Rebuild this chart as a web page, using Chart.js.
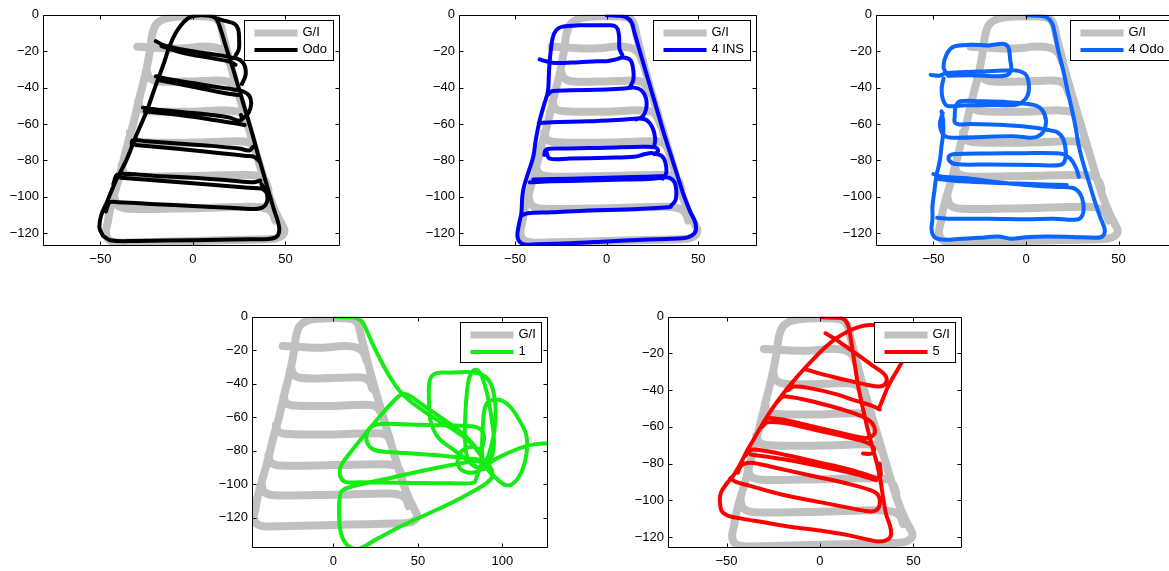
<!DOCTYPE html>
<html>
<head>
<meta charset="utf-8">
<script src="https://cdn.jsdelivr.net/npm/chart.js@4/dist/chart.umd.min.js"></script>
<style>
  html, body { margin: 0; background: #fff; overflow: hidden; width: 1169px; height: 571px; }
  canvas { position: absolute; }
</style>
</head>
<body>
<script>
// tick values
const xTicksMain = [-50, 0, 50];
const xTicksWide = [0, 50, 100];
const yTicks = [0, -20, -40, -60, -80, -100, -120];

// trajectories as [x, y] in metres, [null, null] = pen up
const giPath = [
  [-46,-114],[-45,-108],[-43.5,-102],[-41.5,-95],[-39.5,-88],[-37.5,-80],[-35,-70],[-32.5,-61],[-30.5,-52.5],[-28.5,-44],[-26.5,-36],[-24.5,-27],[-23,-18],[-22,-11],[-20,-5.5],[-16,-2.5],[-10,-1.2],[0,-0.8],[8,-1],[12.5,-2],[14.8,-5],[16.5,-12],[18.5,-20],[21,-30],[24,-41],[27.5,-53],[31,-65],[34.5,-77],[38,-89],[41.5,-100],[45,-109],[48,-115],[49.5,-118.5],[48,-121.5],[44,-123],[30,-123.5],[10,-124],[-10,-124.5],[-30,-125],[-41,-125],[-45.5,-123.5],[-47,-119.5],[-46,-114],
  [null,null],
  [-30,-17.5],[-24,-17.8],[-12,-18.5],[-2,-18.2],[3,-17.6],[9,-17.5],[14,-18.5],[17.5,-21],[19.5,-26],
  [null,null],
  [-25,-30.5],[-23.5,-34.5],[-19,-36.5],[-5,-36.7],[10,-36.2],[18,-36.5],[21.5,-39],[23,-43],
  [null,null],
  [-29.5,-47.5],[-28,-51.5],[-23,-53],[0,-53.2],[18,-52.5],[25,-53.5],[28,-57],[29.5,-61],
  [null,null],
  [-34,-64.5],[-32.5,-68.5],[-27,-70],[0,-70.2],[25,-69.5],[31,-70.5],[33.5,-74],[35,-79],
  [null,null],
  [-38.5,-82.5],[-37,-87],[-31,-88.8],[0,-88.5],[30,-88],[37,-89],[39.5,-92],[40.8,-96],
  [null,null],
  [-42.5,-100],[-41,-104.5],[-35,-106.5],[0,-106.2],[33,-105.5],[40,-106.5],[43,-109],[44.5,-113]
];

const odoPath = [
  [-48.5,-121.5],[-50.5,-117],[-49.5,-110],[-46.5,-103],[-42,-92],[-36,-80],[-30.5,-66],[-25,-53],[-20.5,-40],[-16,-27.5],[-12.5,-17],[-9,-9.5],[-5,-4],[-1,-1],[4,-0.2],[9,-0.6],[12.5,-2],[15,-8],[18,-18],[21.5,-29],[25,-41],[28.5,-53],[32,-65],[35.5,-78],[39.5,-92],[43.5,-106],[46.5,-116],[46,-121],[42,-123],[30,-123.3],[0,-123.8],[-30,-124.2],[-44,-124],[-48.5,-121.5],
  [null,null],
  [12,-1.8],[18,-3.5],[22.5,-5],[24.5,-8],[25,-14],[24.8,-19],[23,-22.5],
  [null,null],
  [-20,-14.5],[-15,-17],[-5,-19.2],[5,-20.8],[15,-22.3],[21,-23.5],[25.5,-24.8],[28,-28],[28.5,-33],[26.5,-38],
  [null,null],
  [-17,-17.2],[-5,-21],[10,-23.8],[20,-25.8],[23,-27.5],
  [null,null],
  [-20,-33.8],[-12,-35.5],[0,-37.5],[12,-39.5],[22,-41],[27,-42],[30.5,-44.5],[31.5,-49],[30,-54],[27,-57],
  [null,null],
  [-18,-36],[0,-39.5],[20,-43.5],[25,-44],
  [null,null],
  [-27,-51],[-20,-52],[-5,-53.5],[10,-55],[20,-56.5],[24,-58],[26.5,-57.5],[26,-55],
  [null,null],
  [-26,-53],[0,-56],[22,-59.5],[28,-60.5],
  [null,null],
  [-33,-72.5],[-32.5,-69],[-25,-69.5],[-10,-70.5],[10,-72],[25,-73.5],[30.5,-74.5],[32.5,-72.5],
  [null,null],
  [-31,-71.5],[-10,-73.5],[15,-76],[29,-77.5],[33,-78],[35.5,-80],
  [null,null],
  [-43,-93],[-41,-88],[-35,-87.5],[-20,-88.5],[0,-89.5],[20,-91],[33,-92],[36.5,-91],
  [null,null],
  [-39,-89.5],[0,-92.5],[30,-95],[37,-95.5],[40,-97.5],
  [null,null],
  [-47,-108],[-45,-103],[-40,-103],[-20,-104],[0,-105],[20,-106],[35,-106.5],[39.5,-104],[40,-98],[37,-93]
];

const ins4Path = [
  [0,-0.2],[6,-0.5],[10.5,-1.3],[13.5,-4],[15,-9],[17.5,-18],[21,-30],[24.5,-42],[28,-54],[31.5,-66],[35,-77],[38.5,-88],[42,-99],[45.5,-108],[48.3,-114],[48.5,-119],[46,-121.5],[41.5,-122.8],[20,-123.5],[0,-124.5],[-20,-125.5],[-38,-126],[-45.5,-126],[-48.5,-122.5],[-48,-116],[-46.5,-109],[-46,-100],[-45,-94],[-42.5,-86],[-40,-78],[-38.5,-68],[-36.5,-58],[-34,-49],[-32,-42],[-31.5,-33],[-31,-25],[-29.5,-13],[-27.5,-8.5],[-24,-6.5],[-15,-5.8],[0,-5.8],[4,-6],[6,-7.8],[6.8,-12],[7,-18.5],[8.5,-22],
  [null,null],
  [-36.5,-24.5],[-33,-25.5],[-28,-26.5],[-15,-26],[-5,-25.5],[0,-25.5],[5,-24.5],[9,-23.5],[13,-25],[14.5,-30],[14.5,-36],[13,-39],
  [null,null],
  [-32,-44],[-30,-42],[-20,-41.5],[0,-41],[10,-40.5],[15,-40],[19,-41.5],[21.5,-46],[21.5,-52],[19.5,-56],[16,-57.5],
  [null,null],
  [-37,-59.5],[-30,-59],[-10,-58.5],[10,-57.5],[18,-57],[22,-58],[25,-62],[26.5,-68],[26,-72],
  [null,null],
  [-34,-77],[-33,-74],[-25,-73.5],[0,-73],[20,-72.5],[27,-73],[28,-75],[26,-76.5],
  [null,null],
  [-33,-75],[-31,-79],[-20,-79],[0,-78.5],[15,-78],[21,-76.5],[25,-76],[30,-77.5],[32,-81],[32.5,-87],[30.5,-90],
  [null,null],
  [-42,-92],[-30,-91.5],[-10,-91],[10,-90.5],[25,-90],[30,-89.5],[34,-89.5],[37,-92],[38,-97],[37.5,-102],[35,-105],
  [null,null],
  [-40,-90.5],[-20,-90],[20,-89],[32,-88.5],
  [null,null],
  [-46,-110],[-43,-109],[-30,-108.5],[-10,-107.5],[10,-107],[30,-106],[35,-105.5]
];

const odo4Path = [
  [0.5,-0.3],[6,-0.5],[11,-1.3],[14,-4.5],[15.5,-10],[17.5,-20],[20,-30],[22.5,-42],[25,-53],[27,-63],[28.5,-72],[31,-82],[34,-92],[37,-102],[40,-111],[42.5,-118],[41.5,-121.5],[38,-122.5],[25,-122],[11,-121.8],[0,-122.2],[-8,-123],[-15,-121.8],[-25,-122.5],[-35,-123],[-45,-123.5],[-49.5,-122],[-51,-118],[-50.5,-112],[-50.5,-105],[-49.5,-97],[-48.3,-88],[-46.5,-80],[-45.6,-72],[-44.7,-65],[-44.8,-58],[-45.6,-53],
  [null,null],
  [-42,-33.5],[-44.5,-29],[-43,-22],[-39,-17.5],[-30,-16.5],[-20,-16.8],[-12,-16],[-9.5,-18],[-8.5,-25],[-8,-30],[-10,-33],[-15,-33.7],[-30,-33.2],[-42,-33.5],
  [null,null],
  [-51.5,-33],[-47,-33.5],[-44,-32.3],[-35,-31.5],[-20,-31],[-8,-30.5],[-4,-30.8],[0,-33],[1.5,-38],[1,-44],[-2,-48],[-6,-49.5],[-20,-49.5],[-35,-49.8],[-42.5,-50],[-45,-46],[-45.5,-40],[-44.5,-35],
  [null,null],
  [-45,-54],[-46.5,-60],[-44.5,-66],[-40,-67.5],[-20,-67],[-5,-66.8],[2,-67.5],[6,-67],[9.5,-64],[10.8,-58],[8.5,-52],[4,-49.5],[-10,-48],[-25,-47.5],[-35.5,-47.5],[-38,-50.5],[-38.5,-56],[-38.5,-59],[-36,-60.2],[-30,-60],[-10,-60.7],[5,-62],[13,-63.5],[17,-64.5],[20,-68],[21.5,-75],[21,-80],[18.5,-82.5],[5,-82.5],[-20,-82.2],[-38,-82],[-41.5,-80],[-41.5,-77.5],[-38,-76.5],[-20,-76.2],[0,-76],[15,-76],[20,-76.5],[24,-79],[27,-84],[28.5,-89],
  [null,null],
  [-50,-87.5],[-45,-89],[-30,-90],[-15,-92],[0,-93.5],[15,-94.5],[25,-95],[29,-98],[31,-104],[30.5,-110],[27.5,-112.5],[15,-112],[0,-112.3],[-20,-112],[-40,-112],[-48,-111.5],
  [null,null],
  [-48,-90],[-35,-91.5],[-10,-92.5],[10,-93.2],[22,-93.5]
];

const ins1Path = [
  [1,0],[8,-0.3],[13.5,-0.7],[17,-3],[20,-9],[24,-18],[28.5,-27],[33.5,-36],[39,-44],[45,-50],[53,-56],[62,-62],[72,-68],[80,-74],[86,-81],[89,-87],
  [84,-86],[70,-88.5],[50,-92.5],[30,-97],[12,-101],[5,-104],[3.5,-110],[3.5,-122],[5,-131],[9,-137],[15,-138.5],[25,-133],[40,-125],[55,-118],[70,-111],[83,-104],[91,-99],[94,-95],[93,-90],[88,-88],
  [85,-95],[83,-99],[70,-99.3],[40,-99],[15,-98.8],[7,-98.5],[4,-95],[4.5,-89],[10,-81],[18,-71],[27,-60],[35,-51],[40,-46.5],[44,-46.5],[52,-52],[62,-59],[72,-66],[80,-73],[85,-79],
  [88,-84],[88,-90],[83,-93],[76,-91.5],[73.5,-86],[76,-80],[82,-77.5],[87,-79],
  [89,-74],[88.5,-69],[85,-66],[75,-65],[50,-64.5],[28,-64],[22,-66],[19.5,-71],[21,-77],[26,-80],[45,-81.5],[65,-83],[80,-84.5],[88,-86],
  [86,-90],[80,-86],[78,-75],[78,-60],[79,-45],[80.5,-36],[83,-32],[85.5,-32],[88,-36],[91,-46],[93.5,-60],[95,-75],[93,-86],[89,-91],
  [84,-89],[72,-80],[62,-72],[57.5,-62],[56.5,-48],[57,-38],[60,-34],[70,-33.3],[80,-33],[87,-34],[92,-38],[95,-46],[96,-58],[95,-70],[92,-82],[89,-88],
  [88,-80],[88.5,-65],[89.5,-55],[92,-50.5],[98,-49.5],[104,-53],[109,-60],[114,-70],[114.5,-80],[112,-91],[107,-99],[102,-100.5],[96,-96],[91,-90],
  [95,-85.5],[104,-81],[113,-77.5],[120,-76],[128,-75.5]
];

const ins5Path = [
  [1,-0.3],[8,-0.5],[12.5,-1],[15,-4.5],[16.5,-12],[18.5,-25],[20.5,-38],[23,-50],[25.5,-61],[28,-71],[30.5,-80],[32.5,-90],[34,-100],[35.5,-108],[37.5,-114],[38,-119],[36,-121.5],[32,-122.5],[26,-121.5],[15,-119],[0,-116.5],[-15,-114.5],[-30,-112],[-42,-110],[-49,-108.5],[-52.5,-106],[-53.5,-101],[-53,-96],[-50,-91],[-46,-86],[-42.5,-80],[-39,-73],[-35,-66],[-30.5,-58],[-25.5,-50],[-20.5,-43],[-15,-36],[-9,-29],[-3,-22.5],[3,-16.5],[9,-11.5],[15,-8],[21,-5.5],[27,-4.5],[33,-5],[38,-7],[42,-11],[44.5,-16],[45,-22],[42,-28],[38.5,-34],[36,-39],[34,-44],[32,-49],
  [null,null],
  [3,-9],[8,-12],[15,-17],[22,-22],[28,-26.5],[33,-30],[35.5,-33],[35,-36.5],[32,-38],[25,-37],[12,-34],[0,-31],[-8,-28.5],
  [null,null],
  [-17,-40],[-14,-38],[-5,-39],[8,-42],[20,-46],[28,-48.5],[32,-50.5],
  [null,null],
  [-23,-46.5],[-19.5,-43.5],[-10,-44.8],[5,-48.5],[18,-52.5],[25,-55.5],[28,-58],[29.5,-62],[28,-65],[24,-66],[10,-63],[-5,-59.5],[-20,-56],[-28,-55],
  [null,null],
  [-31,-60],[-28,-57.5],[-20,-57.8],[-5,-61],[10,-64.5],[22,-67.5],[27,-69.5],[29,-72],[27.5,-74.5],[23,-74.5],
  [null,null],
  [-40,-76],[-37,-72.5],[-30,-73],[-15,-76],[0,-79.5],[15,-83],[25,-86],[31,-88],[32.5,-86],[32,-80],
  [null,null],
  [-37,-75],[-20,-77.5],[0,-81.5],[20,-86],[30,-89],
  [null,null],
  [-44,-85],[-42,-81],[-37,-79.5],[-25,-82],[-5,-86.5],[15,-91],[27,-94.5],[31,-97],[32,-102],[30,-105.5],[26,-106],[15,-104],[0,-101],[-20,-97],[-38,-92],[-45,-90],[-48,-88]
];

const FONT_FAMILY = "'Liberation Sans', Arial, Helvetica, sans-serif";
const FONT = "13px " + FONT_FAMILY;
Chart.defaults.font.family = FONT_FAMILY;
Chart.defaults.font.size = 13;
Chart.defaults.color = '#000';

// matlab style box, inward ticks and legend
const matlabAxes = {
  id: 'matlabAxes',
  afterDatasetsDraw(chart) {
    const { ctx, chartArea: a, scales } = chart;
    const L = Math.round(a.left) + 0.5, T = Math.round(a.top) + 0.5;
    const R = Math.round(a.right) - 0.5, B = Math.round(a.bottom) - 0.5;
    ctx.save();
    ctx.strokeStyle = '#000';
    ctx.lineWidth = 1;
    ctx.beginPath();
    scales.x.ticks.forEach(t => {
      const px = Math.round(scales.x.getPixelForValue(t.value)) + 0.5;
      ctx.moveTo(px, B); ctx.lineTo(px, B - 4);
      ctx.moveTo(px, T); ctx.lineTo(px, T + 4);
    });
    scales.y.ticks.forEach(t => {
      const py = Math.round(scales.y.getPixelForValue(t.value)) + 0.5;
      ctx.moveTo(L, py); ctx.lineTo(L + 4, py);
      ctx.moveTo(R, py); ctx.lineTo(R - 4, py);
    });
    ctx.rect(L, T, R - L, B - T);
    ctx.stroke();

    // legend box
    ctx.font = FONT;
    const ds = chart.data.datasets;
    const tw = Math.max(...ds.map(d => ctx.measureText(d.label).width));
    const w = Math.round(10 + 43 + 5 + tw + 6), h = 40;
    const x0 = Math.round(a.right) - 7 - w + 0.5, y0 = Math.round(a.top) + 5 + 0.5;
    ctx.fillStyle = '#fff';
    ctx.fillRect(x0, y0, w, h);
    ctx.strokeRect(x0, y0, w, h);
    ds.forEach((d, i) => {
      const yy = Math.round(y0 + 12 + i * 17.5);
      ctx.beginPath();
      ctx.strokeStyle = d.borderColor;
      ctx.lineWidth = d.legendWidth;
      ctx.lineCap = 'butt';
      ctx.moveTo(x0 + 10, yy); ctx.lineTo(x0 + 53, yy);
      ctx.stroke();
      ctx.fillStyle = '#000';
      ctx.textBaseline = 'middle';
      ctx.textAlign = 'left';
      ctx.fillText(d.label, x0 + 58, yy - 0.5);
    });
    ctx.restore();
  }
};

const minus = v => String(v).replace('-', '\u2212');

const panels = [
  { label: 'Odo',   path: odoPath,  color: '#000000', x: [-81, 79.5],  y: [-127, 0], xt: xTicksMain, box: [43, 13, 340, 246] },
  { label: '4 INS', path: ins4Path, color: '#0000ff', x: [-80.5, 82],  y: [-127, 0], xt: xTicksMain, box: [459, 13, 757, 246] },
  { label: '4 Odo', path: odo4Path, color: '#0a64ff', x: [-81, 81],    y: [-127, 0], xt: xTicksMain, box: [876, 13, 1176, 246] },
  { label: '1',     path: ins1Path, color: '#14ec14', x: [-48.2, 127], y: [-138, 0], xt: xTicksWide, box: [252, 315, 548, 548] },
  { label: '5',     path: ins5Path, color: '#ff0000', x: [-81.3, 76],  y: [-126, 0], xt: xTicksMain, box: [668, 315, 962, 548] }
];

const M = { l: 52, t: 10, r: 6, b: 28 };

panels.forEach(p => {
  const [L, T, R, B] = p.box;
  const cv = document.createElement('canvas');
  cv.width = R - L + M.l + M.r;
  cv.height = B - T + M.t + M.b;
  cv.style.left = (L - M.l) + 'px';
  cv.style.top = (T - M.t) + 'px';
  document.body.appendChild(cv);

  new Chart(cv, {
    type: 'scatter',
    data: {
      datasets: [
        { label: 'G/I', data: giPath, showLine: true, borderColor: '#c0c0c0', borderWidth: 8, legendWidth: 7,
          tension: 0.35, pointRadius: 0, borderCapStyle: 'round', borderJoinStyle: 'round', clip: 0, order: 2 },
        { label: p.label, data: p.path, showLine: true, borderColor: p.color, borderWidth: 4, legendWidth: 4,
          tension: 0.35, pointRadius: 0, borderCapStyle: 'round', borderJoinStyle: 'round', clip: 0, order: 1 }
      ]
    },
    options: {
      responsive: false,
      animation: false,
      events: [],
      layout: { padding: { left: 0, top: M.t, right: M.r, bottom: 0 } },
      plugins: { legend: { display: false }, tooltip: { enabled: false } },
      scales: {
        x: {
          type: 'linear', min: p.x[0], max: p.x[1],
          afterBuildTicks: s => { s.ticks = p.xt.map(v => ({ value: v })); },
          afterFit: s => { s.height = M.b; },
          grid: { display: false, drawTicks: false },
          border: { display: false },
          ticks: { callback: minus, padding: 6, maxRotation: 0, autoSkip: false, color: '#000' }
        },
        y: {
          type: 'linear', min: p.y[0], max: p.y[1],
          afterBuildTicks: s => { s.ticks = yTicks.map(v => ({ value: v })); },
          afterFit: s => { s.width = M.l; },
          grid: { display: false, drawTicks: false },
          border: { display: false },
          ticks: { callback: minus, padding: 4, autoSkip: false, color: '#000' }
        }
      }
    },
    plugins: [matlabAxes]
  });
});
</script>
</body>
</html>
